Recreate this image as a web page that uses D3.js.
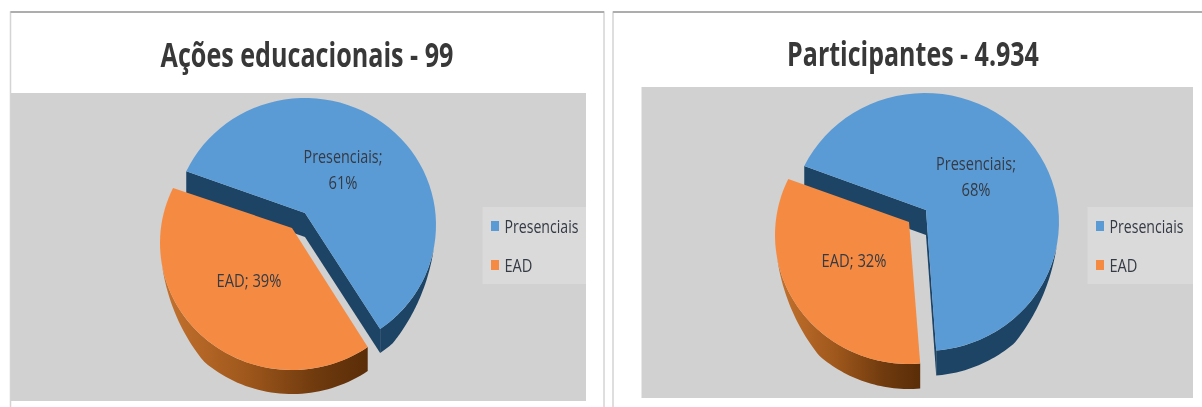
<!DOCTYPE html>
<html>
<head>
<meta charset="utf-8">
<script src="https://cdn.jsdelivr.net/npm/d3@7"></script>
<style>html,body{margin:0;padding:0;background:#fff;overflow:hidden}svg{display:block}text{font-family:"Open Sans",sans-serif}</style>
</head>
<body>
<script>
const categories = ["Presenciais", "EAD"];
const valuesAcoes = [61, 39];
const valuesParticipantes = [68, 32];
const titleAcoes = "Ações educacionais - 99";
const titleParticipantes = "Participantes - 4.934";
const labelsAcoes = [["Presenciais;", "61%"], ["EAD; 39%"]];
const labelsParticipantes = [["Presenciais;", "68%"], ["EAD; 32%"]];

const W = 1202, H = 407, TAU = Math.PI * 2, deg = d => d * Math.PI / 180;
const fill = d3.scaleOrdinal().domain(categories).range(["#5b9bd5", "#f58b42"]);

const svg = d3.select("body").append("svg").attr("width", W).attr("height", H);
const defs = svg.append("defs");
defs.append("filter").attr("id", "soft").append("feGaussianBlur").attr("stdDeviation", 0.45);
const grad = defs.append("linearGradient").attr("id", "orangeWall");
[["0%", "#c4722f"], ["40%", "#a0581c"], ["75%", "#6f3a0e"], ["100%", "#5a2d08"]].forEach(s =>
  grad.append("stop").attr("offset", s[0]).attr("stop-color", s[1]));

// draws a text condensed horizontally to a given width, as the narrow face of the reference
function narrowText(parent, str, x, y, width, size, weight, color, anchor) {
  const t = parent.append("text").attr("dy", "0.36em").attr("text-anchor", anchor)
    .attr("font-size", size).attr("font-weight", weight).attr("fill", color)
    .attr("filter", "url(#soft)").text(str);
  const sx = width / t.node().getComputedTextLength();
  t.attr("transform", `translate(${x},${y}) scale(${sx},1)`);
  return t;
}

const charts = [
  { title: titleAcoes, values: valuesAcoes, labels: labelsAcoes,
    frame: [10.5, 12, 604, 407], plot: [11, 93, 586, 401], legend: [482.5, 207, 586, 284],
    titleXY: [307, 55], titleW: 293,
    depth: 24, screen: [295, 505, 655.7],
    ell: [{ c: [305, 225], apex: [305, 213], r: [131, 127] }, { c: [292, 243], apex: [292, 228], r: [132, 127] }],
    labelXY: [[343, 156], [249, 280]], labelW: [[79, 29], [65]] },
  { title: titleParticipantes, values: valuesParticipantes, labels: labelsParticipantes,
    frame: [613, 12, 1204, 407], plot: [641.5, 87, 1193, 398], legend: [1087.5, 207, 1193, 284],
    titleXY: [913, 54], titleW: 252,
    depth: 25, screen: [295.7, 535.2, 655.7],
    ell: [{ c: [925, 222], apex: [926, 210], r: [134, 129] }, { c: [909, 235], apex: [909, 222], r: [134, 129] }],
    labelXY: [[976, 163], [854, 260]], labelW: [[80, 29], [65]] }
];

const line = d3.line();

charts.forEach(ch => {
  const g = svg.append("g");
  const [fx0, fy0, fx1, fy1] = ch.frame;
  g.append("rect").attr("x", fx0).attr("y", fy0).attr("width", fx1 - fx0).attr("height", fy1 - fy0 + 4)
    .attr("fill", "#fff").attr("stroke", "#d4d4d4").attr("stroke-width", 1.5);
  g.append("line").attr("x1", fx0).attr("x2", fx1).attr("y1", fy0).attr("y2", fy0)
    .attr("stroke", "#adadad").attr("stroke-width", 2);

  const [px0, py0, px1, py1] = ch.plot;
  g.append("rect").attr("x", px0).attr("y", py0).attr("width", px1 - px0).attr("height", py1 - py0).attr("fill", "#d1d1d1");
  const [lx0, ly0, lx1, ly1] = ch.legend;
  g.append("rect").attr("x", lx0).attr("y", ly0).attr("width", lx1 - lx0).attr("height", ly1 - ly0).attr("fill", "#dadada");

  narrowText(g, ch.title, ch.titleXY[0], ch.titleXY[1], ch.titleW, 34, 700, "#383838", "middle");

  // d3.pie gives the data angles; the scale bends them into the perspective of the tilted picture
  const arcs = d3.pie().sort(null).value(d => d.v)(categories.map((c, i) => ({ c, v: ch.values[i] })));
  const toScreen = d3.scaleLinear().domain([0, arcs[0].endAngle, TAU]).range(ch.screen.map(deg));
  const pt = (e, a, dy = 0) => [e.c[0] + e.r[0] * Math.sin(a), e.c[1] - e.r[1] * Math.cos(a) + dy];
  const samples = (a, b) => d3.range(0, 61).map(i => a + (b - a) * i / 60);

  arcs.forEach((arc, i) => {
    const e = ch.ell[i], a0 = toScreen(arc.startAngle), a1 = toScreen(arc.endAngle), name = arc.data.c;
    const top = samples(a0, a1);
    // outer wall: the rim facing the viewer, growing from nothing at the sides of the pie
    const taper = deg(38);
    const k = Math.floor((a0 - deg(100)) / TAU);
    let w0 = null, w1 = null, n0 = 0;
    for (const n of [k, k + 1]) {
      const lo = Math.max(a0, deg(100) + n * TAU), hi = Math.min(a1, deg(260) + n * TAU);
      if (hi > lo) { w0 = lo; w1 = hi; n0 = n; }
    }
    const wallFill = i === 0 ? "#1d4465" : "url(#orangeWall)";
    if (w0 !== null) {
      const s = samples(w0, w1);
      const left = deg(100) + n0 * TAU, right = deg(260) + n0 * TAU;
      const drop = a => ch.depth * Math.min(1, (a - left) / taper, (right - a) / taper);
      const poly = s.map(a => pt(e, a)).concat(s.slice().reverse().map(a => pt(e, a, drop(a))));
      g.append("path").attr("d", line(poly) + "Z").attr("fill", wallFill);
    }
    if (i === 0) {
      // cut faces of the pulled-out slice
      [a0, a1].forEach(a => {
        const p = pt(e, a);
        const q = [[e.apex[0], e.apex[1]], p, [p[0], p[1] + ch.depth], [e.apex[0], e.apex[1] + ch.depth]];
        g.append("path").attr("d", line(q) + "Z").attr("fill", "#1d4465");
      });
    }
    const outline = [e.apex].concat(top.map(a => pt(e, a)));
    g.append("path").attr("d", line(outline) + "Z").attr("fill", fill(name));
  });

  ch.labels.forEach((rows, i) => rows.forEach((t, r) => {
    narrowText(g, t, ch.labelXY[i][0], ch.labelXY[i][1] + r * 26, ch.labelW[i][r], 19, 400, "#343a44", "middle");
  }));

  const legendY = d3.scalePoint().domain(categories).range([ly0 + 19, ly0 + 58]);
  categories.forEach(c => {
    g.append("rect").attr("x", lx0 + 8.5).attr("y", legendY(c) - 5).attr("width", 8).attr("height", 10).attr("fill", fill(c));
    narrowText(g, c, lx0 + 22, legendY(c), c === "EAD" ? 28 : 74, 19, 400, "#343a44", "start");
  });
});
</script>
</body>
</html>
